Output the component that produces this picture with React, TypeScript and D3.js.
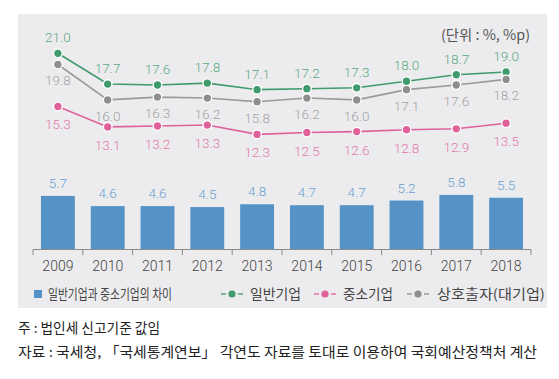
import React from "react";
import * as d3 from "d3";

const years = ["2009", "2010", "2011", "2012", "2013", "2014", "2015", "2016", "2017", "2018"];
const gapValues = [5.7, 4.6, 4.6, 4.5, 4.8, 4.7, 4.7, 5.2, 5.8, 5.5];
const generalValues = [21.0, 17.7, 17.6, 17.8, 17.1, 17.2, 17.3, 18.0, 18.7, 19.0];
const smeValues = [15.3, 13.1, 13.2, 13.3, 12.3, 12.5, 12.6, 12.8, 12.9, 13.5];
const largeValues = [19.8, 16.0, 16.3, 16.2, 15.8, 16.2, 16.0, 17.1, 17.6, 18.2];

const legendLabels = ["일반기업과 중소기업의 차이", "일반기업", "중소기업", "상호출자(대기업)"];
const unitLabel = "(단위 : %, %p)";
const noteLine = "주 : 법인세 신고기준 값임";
const sourceLine = "자료 : 국세청, 「국세통계연보」 각연도 자료를 토대로 이용하여 국회예산정책처 계산";

const W = 559;
const H = 379;
const NUM_FONT = "Roboto, 'Liberation Sans', sans-serif";
const KR_FONT = "'Noto Sans CJK KR', 'Noto Sans', sans-serif";

const COLORS = {
  panel: "#ececee",
  bar: "#5592c5",
  barLabel: "#6a9fd0",
  green: "#3f9a6c",
  greenLabel: "#5aa982",
  pink: "#e0609a",
  pinkLabel: "#e27aa8",
  gray: "#9a9a9a",
  grayDot: "#8e8e8e",
  grayLabel: "#a3a3a3",
  axis: "#8a8a8a",
  text: "#333333",
};

export default function App() {
  const x = d3.scaleBand<string>().domain(years).range([33, 531]).paddingInner(0.32).paddingOuter(0.16);
  const y = d3.scaleLinear().domain([0, 21]).range([249, 53.3]);
  const bw = x.bandwidth();
  const step = x.step();
  const cx = (i: number) => (x(years[i]) as number) + bw / 2;

  const line = d3
    .line<number>()
    .x((_, i) => cx(i))
    .y((v) => y(v));

  const series = [
    { values: generalValues, color: COLORS.green, dot: COLORS.green, label: COLORS.greenLabel, dy: -11 },
    { values: largeValues, color: COLORS.gray, dot: COLORS.grayDot, label: COLORS.grayLabel, dy: 21 },
    { values: smeValues, color: COLORS.pink, dot: COLORS.pink, label: COLORS.pinkLabel, dy: 23 },
  ];

  const tickXs = d3.range(years.length + 1).map((i) => 33 + i * step);

  const legendY = 294;

  return (
    <svg width={W} height={H} style={{ position: "absolute", left: 0, top: 0, background: "#fff" }}>
      <rect x={18} y={14} width={529} height={294} fill={COLORS.panel} />

      <text x={530} y={40} textAnchor="end" fontFamily={KR_FONT} fontSize={14} fill="#555" textLength={89} lengthAdjust="spacingAndGlyphs">
        {unitLabel}
      </text>

      {/* bars */}
      {gapValues.map((v, i) => (
        <g key={"b" + i}>
          <rect x={x(years[i])} y={y(v)} width={bw} height={y(0) - y(v)} fill={COLORS.bar} />
          <text x={cx(i)} y={y(v) - 8} textAnchor="middle" fontFamily={NUM_FONT} fontWeight={300} fontSize={13.5} fill={COLORS.barLabel}>
            {v.toFixed(1)}
          </text>
        </g>
      ))}

      {/* axis */}
      <line x1={33} x2={531} y1={249.5} y2={249.5} stroke={COLORS.axis} strokeWidth={1} />
      {tickXs.map((tx, i) => (
        <line key={"t" + i} x1={tx} x2={tx} y1={249.5} y2={255} stroke={COLORS.axis} strokeWidth={1} />
      ))}
      {years.map((yr, i) => (
        <text key={"y" + i} x={cx(i)} y={271} textAnchor="middle" fontFamily={NUM_FONT} fontWeight={300} fontSize={14} fill="#444">
          {yr}
        </text>
      ))}

      {/* lines */}
      {series.map((s, si) => (
        <g key={"s" + si}>
          <path d={line(s.values) || ""} fill="none" stroke={s.color} strokeWidth={1.6} />
          {s.values.map((v, i) => (
            <circle key={i} cx={cx(i)} cy={y(v)} r={4.3} fill={s.dot} stroke="#fff" strokeWidth={1.3} />
          ))}
          {s.values.map((v, i) => (
            <text key={"l" + i} x={cx(i)} y={y(v) + s.dy} textAnchor="middle" fontFamily={NUM_FONT} fontWeight={300} fontSize={13.5} fill={s.label}>
              {v.toFixed(1)}
            </text>
          ))}
        </g>
      ))}

      {/* legend */}
      <rect x={34} y={legendY - 4} width={8} height={8} fill={COLORS.bar} />
      <text x={48} y={legendY + 5} fontFamily={KR_FONT} fontSize={13.5} fill="#444" textLength={124} lengthAdjust="spacingAndGlyphs">
        {legendLabels[0]}
      </text>
      {[
        { x0: 221, color: COLORS.green, tx: 250, tl: 51, label: legendLabels[1] },
        { x0: 314, color: COLORS.pink, tx: 343, tl: 50, label: legendLabels[2] },
        { x0: 407, color: COLORS.grayDot, tx: 437, tl: 108, label: legendLabels[3] },
      ].map((l, i) => (
        <g key={"lg" + i}>
          <line x1={l.x0} x2={l.x0 + 5} y1={legendY} y2={legendY} stroke={l.color} strokeWidth={1.3} />
          <line x1={l.x0 + 17} x2={l.x0 + 22} y1={legendY} y2={legendY} stroke={l.color} strokeWidth={1.3} />
          <circle cx={l.x0 + 11} cy={legendY} r={3.6} fill={l.color} />
          <text x={l.tx} y={legendY + 5} fontFamily={KR_FONT} fontSize={13.5} fill="#444" textLength={l.tl} lengthAdjust="spacingAndGlyphs">
            {l.label}
          </text>
        </g>
      ))}

      {/* footer */}
      <text x={18} y={333} fontFamily={KR_FONT} fontSize={13.5} fill="#222" textLength={142} lengthAdjust="spacingAndGlyphs">
        {noteLine}
      </text>
      <text x={18} y={357} fontFamily={KR_FONT} fontSize={13.5} fill="#222" textLength={519} lengthAdjust="spacingAndGlyphs">
        {sourceLine}
      </text>
    </svg>
  );
}
